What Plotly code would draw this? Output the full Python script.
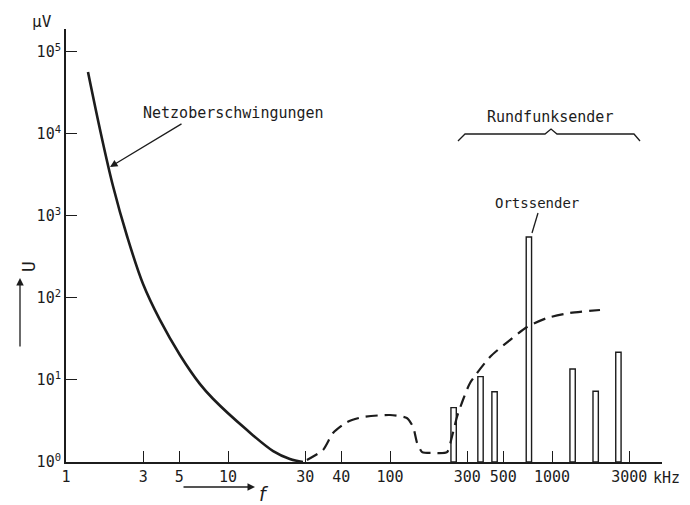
import math
import plotly.graph_objects as go

# ---------------- data ----------------
# Netzoberschwingungen (solid curve): frequency in kHz, voltage in µV
netz_f = [1.367, 1.644, 1.95, 2.38, 2.99, 3.80, 5.05, 6.72, 8.08, 13.1, 19.0, 24.1, 29.0]
netz_u = [57000, 10000, 2320, 570, 148, 54, 20.2, 8.9, 5.9, 2.45, 1.36, 1.09, 1.0]

# dashed envelope curve
dash_f = [30.7, 38.6, 44.5, 54.3, 68.1, 100, 127, 139, 147, 158, 184, 225,
          241, 259, 282, 312, 414, 550, 701, 931, 1291, 1978]
dash_u = [1.06, 1.40, 2.26, 3.07, 3.54, 3.74, 3.44, 2.67, 1.71, 1.32, 1.29, 1.32,
          2.02, 3.54, 5.70, 9.2, 19.1, 30.7, 44.3, 57, 65.6, 71.4]

# Rundfunksender (bars): centre frequency in kHz, level in µV
sender_f = [247, 362, 442, 720, 1340, 1860, 2570]
sender_u = [4.6, 11.0, 7.2, 554, 13.6, 7.3, 21.8]

# axis ticks
x_tickvals = [1, 3, 5, 10, 30, 50, 100, 300, 500, 1000, 3000]
x_ticktext = ["1", "3", "5", "10", "30", "40", "100", "300", "500", "1000", "3000"]
y_tickvals = [1, 10, 100, 1000, 10000, 100000]
y_ticktext = ["10<sup>0</sup>", "10<sup>1</sup>", "10<sup>2</sup>",
              "10<sup>3</sup>", "10<sup>4</sup>", "10<sup>5</sup>"]

# ---------------- style ----------------
INK = "#1c1c1c"
FONT = "DejaVu Sans Mono"
W, H = 690, 505
ML, MR, MT, MB = 66, 28, 29, 43
PW, PH = W - ML - MR, H - MT - MB
X_DECADES = 3.679
Y_DECADES = 5.28
BAR_HALF = 10 ** 0.0165  # half bar width as a log factor


def px(xp):
    return (xp - ML) / PW


def py(yp):
    return (H - MB - yp) / PH


fig = go.Figure()

# bars (outlined rectangles)
for c, v in zip(sender_f, sender_u):
    fig.add_trace(go.Scatter(
        x=[c / BAR_HALF, c / BAR_HALF, c * BAR_HALF, c * BAR_HALF, c / BAR_HALF],
        y=[1, v, v, 1, 1],
        mode="lines", fill="toself", fillcolor="white",
        line=dict(color=INK, width=1.4), hoverinfo="skip", showlegend=False))

# solid curve
fig.add_trace(go.Scatter(x=netz_f, y=netz_u, mode="lines",
                         line=dict(color=INK, width=2.6, shape="spline", smoothing=1.0),
                         hoverinfo="skip", showlegend=False))

# dashed curve
fig.add_trace(go.Scatter(x=dash_f, y=dash_u, mode="lines",
                         line=dict(color=INK, width=2.2, dash="12px,7px",
                                   shape="spline", smoothing=0.6),
                         hoverinfo="skip", showlegend=False))


def label(text, xp, yp, size, family=FONT, angle=0, anchor="center"):
    return dict(text=text, x=px(xp), y=py(yp), xref="paper", yref="paper",
                xanchor=anchor, yanchor="middle", textangle=angle, showarrow=False,
                font=dict(size=size, family=family, color=INK))


def arrow(hx, hy, tx, ty):
    return dict(text="", x=px(hx), y=py(hy), xref="paper", yref="paper",
                showarrow=True, ax=tx - hx, ay=ty - hy, arrowhead=2, arrowsize=1.15,
                arrowwidth=1.3, arrowcolor=INK)


ann = [
    label("Netzoberschwingungen", 233, 113, 15),
    arrow(110, 167, 183, 123),
    label("Rundfunksender", 550, 117, 15),
    label("Ortssender", 537, 203, 14),
    label("µV", 42, 22, 16),
    label("kHz", 651, 478, 15, anchor="left"),
    label("U", 28, 267, 18, angle=-90),
    arrow(20, 278, 20, 348),
    label("<i>f</i>", 264, 494, 19, family="DejaVu Sans"),
    arrow(255, 487, 182, 487),
]

# brace and leader line (annotation decoration, paper coordinates)
brace_pts = [(458, 141), (465, 134), (545, 134), (551, 129), (557, 134), (634, 134), (640, 141)]
path = "M " + " L ".join(f"{px(a):.4f},{py(b):.4f}" for a, b in brace_pts)
shapes = [
    dict(type="path", path=path, xref="paper", yref="paper",
         line=dict(color=INK, width=1.3)),
    dict(type="line", x0=px(538), y0=py(213), x1=px(532), y1=py(233),
         xref="paper", yref="paper", line=dict(color=INK, width=1.3)),
]

fig.update_layout(
    width=W, height=H,
    margin=dict(l=ML, r=MR, t=MT, b=MB, pad=0),
    paper_bgcolor="white", plot_bgcolor="white",
    showlegend=False, hovermode=False,
    annotations=ann, shapes=shapes,
    font=dict(family=FONT, color=INK, size=14),
)
fig.update_xaxes(type="log", range=[0, X_DECADES], showgrid=False, zeroline=False,
                 showline=True, linecolor=INK, linewidth=2,
                 ticks="inside", ticklen=11, tickwidth=1.3, tickcolor=INK,
                 tickvals=x_tickvals, ticktext=x_ticktext,
                 tickfont=dict(size=15, family=FONT, color=INK))
fig.update_yaxes(type="log", range=[0, Y_DECADES], showgrid=False, zeroline=False,
                 showline=True, linecolor=INK, linewidth=2,
                 ticks="inside", ticklen=11, tickwidth=1.3, tickcolor=INK,
                 tickvals=y_tickvals, ticktext=y_ticktext,
                 tickfont=dict(size=15, family=FONT, color=INK))

fig.write_html("out.html")
